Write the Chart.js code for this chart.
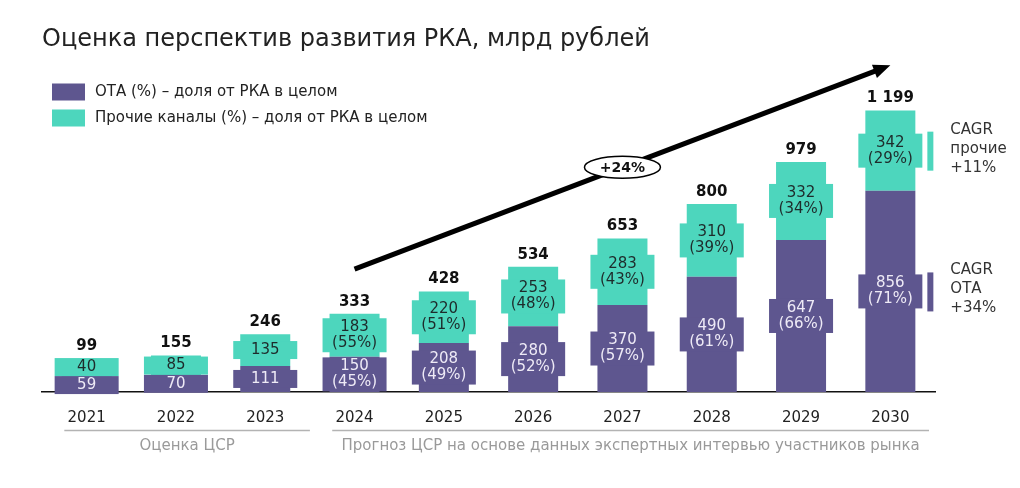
<!DOCTYPE html>
<html>
<head>
<meta charset="utf-8">
<script src="https://cdn.jsdelivr.net/npm/chart.js@4.4.1/dist/chart.umd.min.js"></script>
<style>
html,body{margin:0;padding:0;background:#fff;}
#wrap{width:1020px;height:488px;position:relative;}
</style>
</head>
<body>
<div id="wrap"><canvas id="c" width="1020" height="488"></canvas></div>
<script>
// ---- data ----
const years = ['2021','2022','2023','2024','2025','2026','2027','2028','2029','2030'];
const otaValues = [59, 70, 111, 150, 208, 280, 370, 490, 647, 856];
const otherValues = [40, 85, 135, 183, 220, 253, 283, 310, 332, 342];
const otaShares = [null, null, null, 45, 49, 52, 57, 61, 66, 71];
const otherShares = [null, null, null, 55, 51, 48, 43, 39, 34, 29];
const totals = ['99', '155', '246', '333', '428', '534', '653', '800', '979', '1 199'];
const growthLabel = '+24%';
const cagrOther = ['CAGR', 'прочие', '+11%'];
const cagrOta = ['CAGR', 'ОТА', '+34%'];
const groupLabels = ['Оценка ЦСР', 'Прогноз ЦСР на основе данных экспертных интервью участников рынка'];
const titleText = 'Оценка перспектив развития РКА, млрд рублей';

const PURPLE = '#5e568f';
const TEAL = '#4dd6bd';
const FONT = '"DejaVu Sans", sans-serif';

const decor = {
  id: 'decor',
  afterDatasetsDraw(chart) {
    const ctx = chart.ctx;
    const mOta = chart.getDatasetMeta(0);
    const mOth = chart.getDatasetMeta(1);
    const lh = 16;
    chart._boxes = [];
    ctx.save();
    ctx.textAlign = 'center';
    ctx.textBaseline = 'middle';
    ctx.font = '15px ' + FONT;
    years.forEach((y, i) => {
      const bo = mOta.data[i], bt = mOth.data[i];
      const oLines = [String(otaValues[i])];
      if (otaShares[i] != null) oLines.push('(' + otaShares[i] + '%)');
      const tLines = [String(otherValues[i])];
      if (otherShares[i] != null) tLines.push('(' + otherShares[i] + '%)');
      const oh = oLines.length * lh + 2, th = tLines.length * lh + 2;
      const oc = (bo.y + bo.base) / 2;
      let tc = (bt.y + bt.base) / 2;
      if (tc + th / 2 > oc - oh / 2) tc = oc - oh / 2 - th / 2;
      const w = bo.width + 14;
      ctx.fillStyle = PURPLE;
      ctx.fillRect(bo.x - w / 2, oc - oh / 2, w, oh);
      ctx.fillStyle = TEAL;
      ctx.fillRect(bt.x - w / 2, tc - th / 2, w, th);
      ctx.fillStyle = '#eeeaf6';
      oLines.forEach((s, k) => ctx.fillText(s, bo.x, oc + (k - (oLines.length - 1) / 2) * lh));
      ctx.fillStyle = '#1e2b2b';
      tLines.forEach((s, k) => ctx.fillText(s, bt.x, tc + (k - (tLines.length - 1) / 2) * lh));
      const top = Math.min(bt.y, tc - th / 2);
      ctx.fillStyle = '#111';
      ctx.font = 'bold 15px ' + FONT;
      ctx.fillText(totals[i], bt.x, top - 12);
      ctx.font = '15px ' + FONT;
      chart._boxes.push({oc, tc, x: bo.x, w: bo.width});
    });
    ctx.restore();
  },
  afterDraw(chart) {
    const ctx = chart.ctx;
    const xs = chart.scales.x, ys = chart.scales.y;
    ctx.save();
    // title
    ctx.fillStyle = '#222';
    ctx.textAlign = 'left';
    ctx.textBaseline = 'middle';
    ctx.font = '24px ' + FONT;
    ctx.fillText(titleText, 42, 40);
    // legend
    ctx.font = '15px ' + FONT;
    chart.data.datasets.forEach((ds, k) => {
      const yy = 92 + k * 26;
      ctx.fillStyle = ds.backgroundColor;
      ctx.fillRect(52, yy - 8.5, 33, 17);
      ctx.fillStyle = '#222';
      ctx.fillText(ds.label, 95, yy);
    });
    // arrow
    const x0 = xs.getPixelForValue(3), y0 = ys.getPixelForValue(523);
    const x1 = xs.getPixelForValue(9), y1 = ys.getPixelForValue(1390);
    const ang = Math.atan2(y1 - y0, x1 - x0);
    const hl = 17;
    ctx.strokeStyle = '#000';
    ctx.lineWidth = 5;
    ctx.beginPath();
    ctx.moveTo(x0, y0);
    ctx.lineTo(x1 - Math.cos(ang) * hl * 0.8, y1 - Math.sin(ang) * hl * 0.8);
    ctx.stroke();
    ctx.fillStyle = '#000';
    ctx.beginPath();
    ctx.moveTo(x1, y1);
    ctx.lineTo(x1 - hl * Math.cos(ang) + 7 * Math.sin(ang), y1 - hl * Math.sin(ang) - 7 * Math.cos(ang));
    ctx.lineTo(x1 - hl * Math.cos(ang) - 7 * Math.sin(ang), y1 - hl * Math.sin(ang) + 7 * Math.cos(ang));
    ctx.closePath();
    ctx.fill();
    // ellipse
    const ex = (x0 + x1) / 2, ey = (y0 + y1) / 2;
    ctx.beginPath();
    ctx.ellipse(ex, ey, 38, 11, 0, 0, Math.PI * 2);
    ctx.fillStyle = '#fff';
    ctx.fill();
    ctx.lineWidth = 1.5;
    ctx.stroke();
    ctx.fillStyle = '#111';
    ctx.textAlign = 'center';
    ctx.font = 'bold 14px ' + FONT;
    ctx.fillText(growthLabel, ex, ey + 1);
    // CAGR annotations
    const b = chart._boxes[9];
    const cx = b.x + b.w / 2 + 12;
    [[b.tc, TEAL, cagrOther], [b.oc, PURPLE, cagrOta]].forEach(([c, col, lines]) => {
      ctx.fillStyle = col;
      ctx.fillRect(cx, c - 19, 6, 39);
      ctx.fillStyle = '#333';
      ctx.textAlign = 'left';
      ctx.font = '15px ' + FONT;
      lines.forEach((s, k) => ctx.fillText(s, cx + 23, c - 2 + (k - 1) * 19));
    });
    // group lines
    const cw = xs.getPixelForValue(1) - xs.getPixelForValue(0);
    const groups = [[0, 2], [3, 9]];
    ctx.strokeStyle = '#b3b3b3';
    ctx.lineWidth = 1.5;
    ctx.font = '15px ' + FONT;
    ctx.fillStyle = '#9a9a9a';
    ctx.textAlign = 'center';
    groups.forEach(([a, z], k) => {
      const l = xs.getPixelForValue(a) - cw / 4;
      const r = xs.getPixelForValue(z) + cw / 2 - (k === 1 ? 6 : 0);
      ctx.beginPath();
      ctx.moveTo(l, 430.5);
      ctx.lineTo(r, 430.5);
      ctx.stroke();
      ctx.fillText(groupLabels[k], (l + r) / 2, 446);
    });
    ctx.restore();
  }
};

new Chart(document.getElementById('c'), {
  type: 'bar',
  data: {
    labels: years,
    datasets: [
      { label: 'ОТА (%) – доля от РКА в целом', data: otaValues, backgroundColor: PURPLE },
      { label: 'Прочие каналы (%) – доля от РКА в целом', data: otherValues, backgroundColor: TEAL }
    ]
  },
  options: {
    responsive: false,
    animation: false,
    devicePixelRatio: 1,
    layout: { padding: { left: 42, right: 85, top: 63, bottom: 0 } },
    plugins: { legend: { display: false }, tooltip: { enabled: false }, title: { display: false } },
    datasets: { bar: { barPercentage: 0.56, categoryPercentage: 1 } },
    scales: {
      x: {
        stacked: true,
        grid: { display: false },
        border: { color: '#111', width: 1.5 },
        ticks: { color: '#222', font: { size: 15, family: FONT }, padding: 9 },
        afterFit(s) { s.height = 96; }
      },
      y: { stacked: true, display: false, min: 0, max: 1400 }
    }
  },
  plugins: [decor]
});
</script>
</body>
</html>
